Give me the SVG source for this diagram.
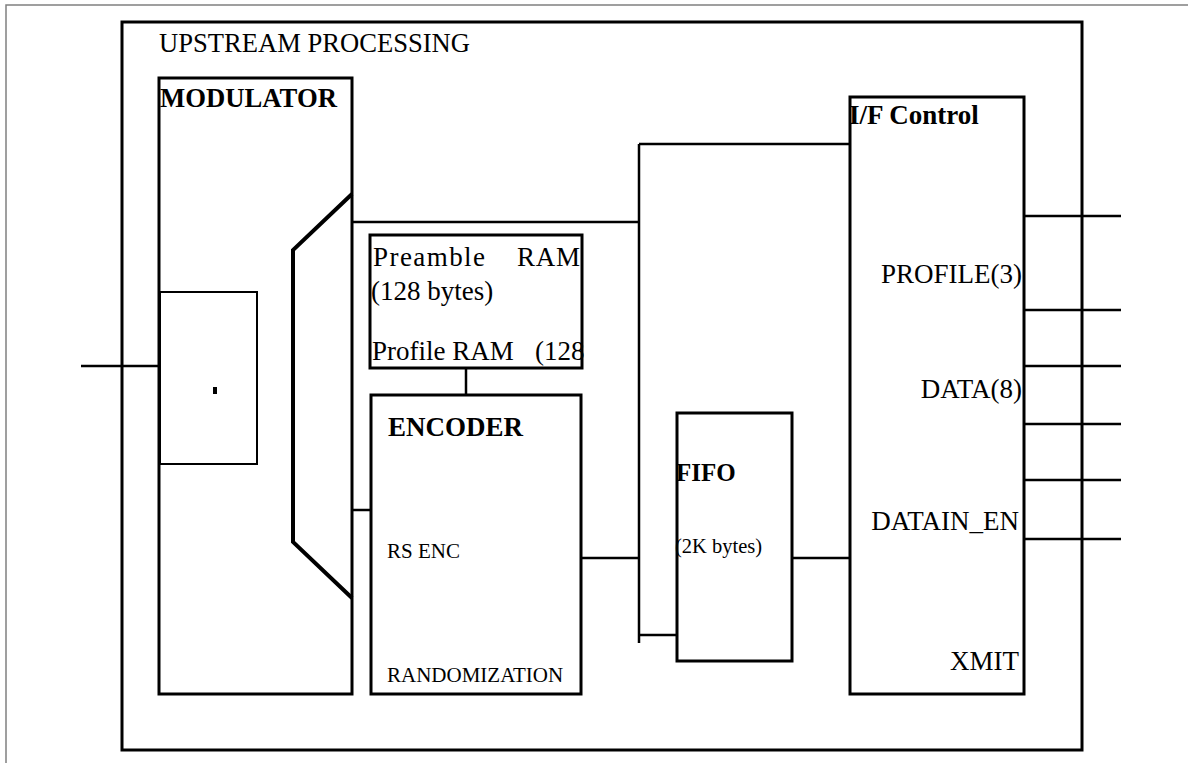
<svg xmlns="http://www.w3.org/2000/svg" width="1188" height="763" viewBox="0 0 1188 763">
<style>
.box{fill:none;stroke:#000;stroke-width:3}
.thin{fill:none;stroke:#000;stroke-width:2}
.ln{stroke:#000;stroke-width:2.5;fill:none}
.t{font-family:"Liberation Serif","Times New Roman",serif;font-size:27px;fill:#000}
.b{font-weight:bold}
.s{font-size:21px}
.e{text-anchor:end}
</style>
<rect x="0" y="0" width="1188" height="763" fill="#fff"/>
<g id="page-border">
<path d="M6,763 V5 H1188" fill="none" stroke="#808080" stroke-width="1.5"/>
</g>
<g id="upstream">
<rect class="box" x="122" y="22" width="960" height="728"/>
<text class="t" x="159" y="52" textLength="311" lengthAdjust="spacingAndGlyphs">UPSTREAM PROCESSING</text>
</g>
<g id="modulator">
<rect class="box" x="159" y="78" width="193" height="616"/>
<text class="t b" x="160" y="107" textLength="177" lengthAdjust="spacingAndGlyphs">MODULATOR</text>
</g>
<g id="inner-block">
<rect class="thin" x="160" y="292" width="97" height="172"/>
<rect x="213" y="387" width="4" height="7" fill="#000"/>
</g>
<g id="mux">
<path d="M352,194 L293,250 L293,542 L352,598" fill="none" stroke="#000" stroke-width="4" stroke-linejoin="miter"/>
</g>
<g id="preamble-ram">
<text class="t" y="266"><tspan x="373" textLength="112" lengthAdjust="spacing">Preamble</tspan><tspan x="517" textLength="63" lengthAdjust="spacing">RAM</tspan></text>
<text class="t" x="371" y="300">(128 bytes)</text>
<text class="t" x="372" y="360">Profile RAM</text>
<text class="t" x="535" y="360">(128</text>
<rect class="box" x="370" y="235" width="212" height="133"/>
</g>
<g id="encoder">
<rect class="box" x="371" y="395" width="210" height="299"/>
<text class="t b" x="388" y="436">ENCODER</text>
<text class="t s" x="387" y="558">RS ENC</text>
<text class="t s" x="387" y="682">RANDOMIZATION</text>
</g>
<g id="fifo">
<text class="t b" x="676" y="481" style="font-size:25px">FIFO</text>
<text class="t" x="675" y="553" style="font-size:20.5px">(2K bytes)</text>
<rect class="box" x="677" y="413" width="115" height="248"/>
</g>
<g id="if-control">
<text class="t b" x="849" y="124">I/F Control</text>
<rect class="box" x="850" y="97" width="174" height="597"/>
<text class="t e" x="1022" y="283">PROFILE(3)</text>
<text class="t e" x="1022" y="398">DATA(8)</text>
<text class="t e" x="1019" y="530">DATAIN_EN</text>
<text class="t e" x="1019" y="670">XMIT</text>
</g>
<g id="connectors">
<path class="ln" d="M81,366 H160"/>
<path class="ln" d="M352,222 H639"/>
<path class="ln" d="M639,144 V643"/>
<path class="ln" d="M639,144 H850"/>
<path class="ln" d="M639,635 H677"/>
<path class="ln" d="M466,368 V395"/>
<path class="ln" d="M352,510 H371"/>
<path class="ln" d="M581,558 H639"/>
<path class="ln" d="M792,558 H850"/>
<path class="ln" d="M1024,216 H1121"/>
<path class="ln" d="M1024,310 H1121"/>
<path class="ln" d="M1024,366 H1121"/>
<path class="ln" d="M1024,424 H1121"/>
<path class="ln" d="M1024,480 H1121"/>
<path class="ln" d="M1024,539 H1121"/>
</g>
</svg>
